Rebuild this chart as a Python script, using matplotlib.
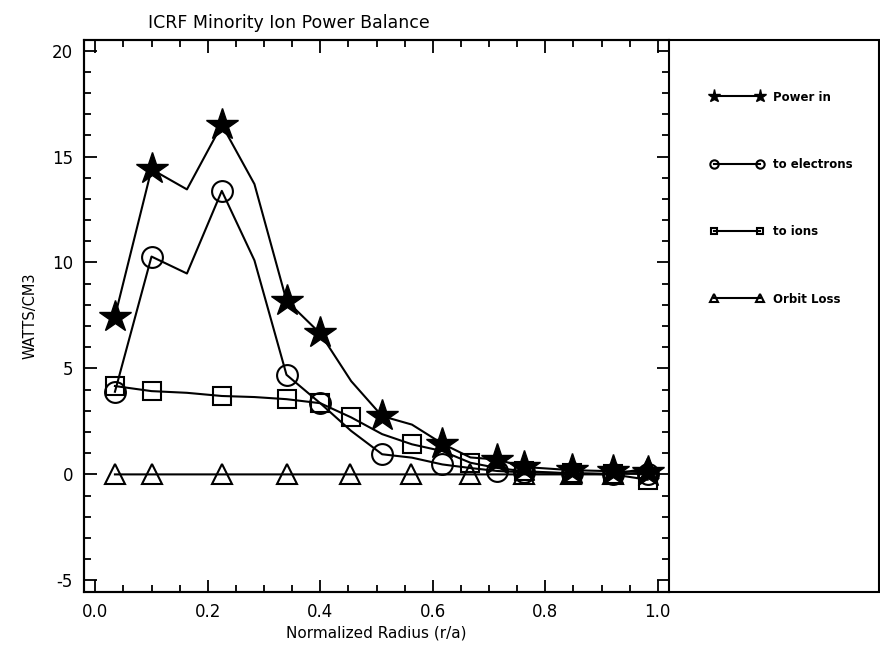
import matplotlib
matplotlib.use("Agg")
import matplotlib.pyplot as plt
from matplotlib.patches import Rectangle
from matplotlib.ticker import MultipleLocator

plt.rcParams["font.family"] = ["DejaVu Sans"]
plt.rcParams["axes.unicode_minus"] = False

# ---- data -------------------------------------------------------
x_power = [0.035, 0.10, 0.163, 0.225, 0.283, 0.34, 0.40, 0.455, 0.51, 0.563,
           0.617, 0.667, 0.715, 0.762, 0.847, 0.92, 0.982]
y_power = [7.45, 14.4, 13.45, 16.5, 13.7, 8.2, 6.65, 4.4, 2.75, 2.35,
           1.45, 0.8, 0.7, 0.35, 0.2, 0.15, 0.1]
mk_power = [0, 1, 3, 5, 6, 8, 10, 12, 13, 14, 15, 16]

x_elec = [0.035, 0.10, 0.163, 0.225, 0.283, 0.34, 0.40, 0.455, 0.51, 0.563,
          0.617, 0.667, 0.715, 0.762, 0.847, 0.92, 0.982]
y_elec = [3.9, 10.28, 9.48, 13.38, 10.1, 4.7, 3.36, 2.05, 0.95, 0.79,
          0.47, 0.3, 0.16, 0.1, 0.05, 0.03, 0.02]
mk_elec = [0, 1, 3, 5, 6, 8, 10, 12, 13, 14, 15, 16]

x_ions = [0.035, 0.10, 0.163, 0.225, 0.283, 0.34, 0.40, 0.455, 0.51, 0.563,
          0.617, 0.667, 0.715, 0.762, 0.847, 0.92, 0.982]
y_ions = [4.17, 3.93, 3.85, 3.7, 3.65, 3.55, 3.36, 2.69, 1.9, 1.42,
          1.1, 0.55, 0.3, 0.15, 0.05, 0.0, -0.25]
mk_ions = [0, 1, 3, 5, 6, 7, 9, 11, 13, 14, 15, 16]

x_orbit = [0.035, 0.10, 0.225, 0.34, 0.452, 0.562, 0.666, 0.762, 0.846, 0.92, 0.982]
y_orbit = [0.0, 0.0, 0.0, 0.0, 0.0, 0.0, 0.0, 0.0, 0.0, 0.0, 0.3]

labels = ["Power in", "to electrons", "to ions", "Orbit Loss"]

# ---- plot --------------------------------------------------------
fig = plt.figure(figsize=(8.8, 6.62), dpi=100)
ax = fig.add_axes([84 / 880, 70 / 662, 585 / 880, 552 / 662])

lw = 1.5
h1, = ax.plot(x_power, y_power, "-", color="k", lw=lw, marker="*", ms=24,
              markevery=mk_power, mfc="k", mec="k", label=labels[0])
h2, = ax.plot(x_elec, y_elec, "-", color="k", lw=lw, marker="o", ms=15,
              markevery=mk_elec, fillstyle="none", mec="k", mew=1.5, label=labels[1])
h3, = ax.plot(x_ions, y_ions, "-", color="k", lw=lw, marker="s", ms=12.5,
              markevery=mk_ions, fillstyle="none", mec="k", mew=1.5, label=labels[2])
h4, = ax.plot(x_orbit, y_orbit, "-", color="k", lw=lw, marker="^", ms=15,
              fillstyle="none", mec="k", mew=1.5, label=labels[3])

ax.set_xlim(-0.02, 1.02)
ax.set_ylim(-5.55, 20.5)
ax.xaxis.set_major_locator(MultipleLocator(0.2))
ax.xaxis.set_minor_locator(MultipleLocator(0.05))
ax.yaxis.set_major_locator(MultipleLocator(5))
ax.yaxis.set_minor_locator(MultipleLocator(1))
ax.tick_params(which="both", direction="in", top=True, right=True, width=1.3)
ax.tick_params(which="major", length=9, labelsize=12, pad=8)
ax.tick_params(which="minor", length=5)
for s in ax.spines.values():
    s.set_linewidth(1.5)

ax.set_xlabel("Normalized Radius (r/a)", fontsize=11, labelpad=3)
ax.set_ylabel("WATTS/CM3", fontsize=10.5, labelpad=10)
ax.set_title("ICRF Minority Ion Power Balance", fontsize=12.5, pad=9, x=0.35)

# outer frame around plot + legend panel
fig.add_artist(Rectangle((84 / 880, 70 / 662), 796 / 880 - 0.001, 552 / 662,
                         transform=fig.transFigure, fill=False, lw=1.5, ec="k"))

leg = fig.legend(handles=[h1, h2, h3, h4], loc="upper left",
                 bbox_to_anchor=(700 / 880, 1 - 80 / 662), frameon=False,
                 numpoints=2, markerscale=0.4, fontsize=8.5, labelspacing=4.6,
                 handlelength=4.5, handletextpad=0.8)
for t in leg.get_texts():
    t.set_fontweight("bold")

fig.savefig("out.png", dpi=100)
